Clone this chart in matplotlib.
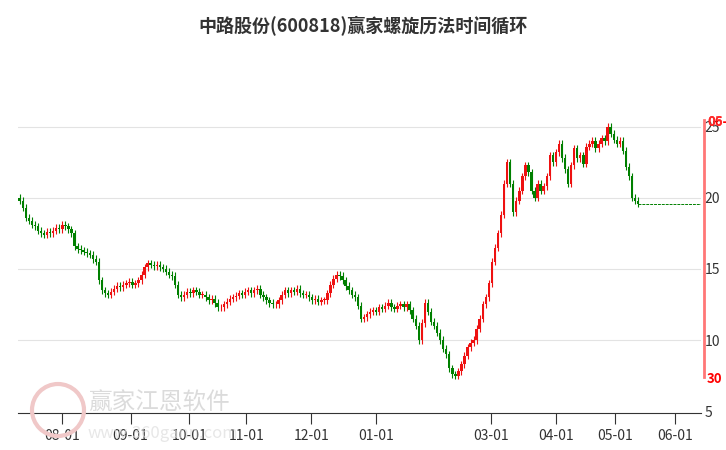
import numpy as np
import matplotlib.pyplot as plt
from matplotlib.lines import Line2D
from matplotlib.patches import Ellipse

plt.rcParams['font.family'] = ['Noto Sans CJK SC', 'DejaVu Sans']

# daily closes (trading days)
closes = [19.8,19.3,18.6,18.4,18.1,18.0,17.7,17.5,17.4,17.6,
          17.5,17.7,17.9,17.8,18.1,18.0,17.8,17.5,16.6,16.4,
          16.3,16.2,16.1,16.0,15.7,15.5,14.2,13.5,13.3,13.2,
          13.4,13.6,13.8,13.7,13.9,14.0,14.1,13.9,14.0,14.2,
          14.6,15.1,15.4,15.3,15.2,15.3,15.1,15.0,14.8,14.6,
          14.5,13.9,13.2,13.0,13.2,13.4,13.3,13.5,13.4,13.2,
          13.2,13.0,12.8,12.9,12.6,12.3,12.3,12.5,12.7,12.9,
          13.0,13.1,13.3,13.2,13.4,13.5,13.3,13.5,13.6,13.2,
          13.0,12.8,12.6,12.5,12.5,12.8,13.2,13.5,13.3,13.5,
          13.4,13.6,13.3,13.2,13.2,13.0,12.8,12.9,12.7,12.8,
          12.8,13.3,13.9,14.3,14.6,14.5,14.2,13.8,13.5,13.2,
          13.0,12.4,11.5,11.6,11.8,12.0,12.1,12.0,12.3,12.2,
          12.4,12.6,12.3,12.2,12.4,12.5,12.3,12.5,12.1,11.5,
          11.0,10.0,11.2,12.6,12.0,11.3,11.0,10.5,10.0,9.4,
          9.0,8.0,7.6,7.5,7.8,8.3,8.9,9.5,9.8,10.0,
          10.8,11.5,12.5,13.0,14.0,15.5,16.5,17.5,18.8,21.0,
          22.5,21.0,19.0,19.8,20.5,21.5,22.3,21.8,20.5,20.0,
          21.0,20.5,20.8,21.5,23.0,22.5,23.2,23.8,22.8,22.0,
          21.0,22.3,23.5,22.8,23.0,22.4,23.6,23.8,24.0,23.5,
          23.8,24.2,24.0,25.0,24.5,24.1,23.8,24.0,23.3,22.2,
          21.5,20.0,19.8,19.6]
opens = [20.0] + closes[:-1]
tick_pos = [13.8, 36.4, 55.7, 74.4, 95.7, 117, 154.8, 176, 195.4, 215]
tick_labels = ['08-01', '09-01', '10-01', '11-01', '12-01', '01-01',
               '03-01', '04-01', '05-01', '06-01']
y_ticks = [5, 10, 15, 20, 25]

fig = plt.figure(figsize=(7.26, 4.5), dpi=100)
ax = fig.add_axes([0.025, 0.082, 0.94, 0.807])

for i, (o, c) in enumerate(zip(opens, closes)):
    col = '#ee1111' if c >= o else '#008000'
    lo, hi = min(o, c), max(o, c)
    ax.vlines(i, lo - 0.25, hi + 0.25, color=col, lw=0.8)
    ax.bar(i, max(hi - lo, 0.05), bottom=lo, width=0.8, color=col)

ax.plot([len(closes) - 1, 223.5], [closes[-1]] * 2, color='#008000',
        ls=(0, (3, 1)), lw=0.7)

ax.set_xlim(-0.5, 223.5)
ax.set_ylim(4.86, 30.4)
for v in y_ticks[1:]:
    ax.axhline(v, color='#e3e3e3', lw=0.8, zorder=0)
ax.set_xticks(tick_pos)
ax.set_xticklabels(tick_labels, fontsize=10, color='#333333')
ax.tick_params(axis='x', length=8, color='#333333')
ax.yaxis.tick_right()
ax.set_yticks(y_ticks)
ax.set_yticklabels([str(v) for v in y_ticks], fontsize=10, color='#333333')
ax.tick_params(axis='y', length=0, pad=3)
for s in ['top', 'left', 'right']:
    ax.spines[s].set_visible(False)
ax.spines['bottom'].set_color('#333333')

# red marker line on right
fig.add_artist(Line2D([704 / 726] * 2, [1 - 120 / 450, 1 - 377 / 450],
                      color='#ff7777', lw=2))
fig.text(707 / 726, 1 - 122 / 450, '06-', color='red', fontsize=9.5,
         fontweight='bold', va='center')
fig.text(707 / 726, 1 - 122 / 450, '05', color='#ff3333', fontsize=9.5,
         fontweight='bold', va='center', alpha=0.8)
fig.text(707 / 726, 1 - 379 / 450, '30', color='red', fontsize=9.5,
         fontweight='bold', va='center')

# watermark
fig.text(88 / 726, 1 - 403 / 450, '赢家江恩软件', fontsize=17, color='#cccccc',
         alpha=0.7, va='center')
fig.text(88 / 726, 1 - 433 / 450, 'www.360gann.com', fontsize=12,
         color='#dddddd', alpha=0.7, va='center')
fig.add_artist(Ellipse((58 / 726, 1 - 410 / 450), 52 / 726, 52 / 450,
                       transform=fig.transFigure, fill=False,
                       color='#f0c8c8', lw=3))

fig.text(0.5, 1 - 26 / 450, '中路股份(600818)赢家螺旋历法时间循环', ha='center',
         va='center', fontsize=13, fontweight='bold', color='#333333')

fig.savefig('out.png', dpi=100)
